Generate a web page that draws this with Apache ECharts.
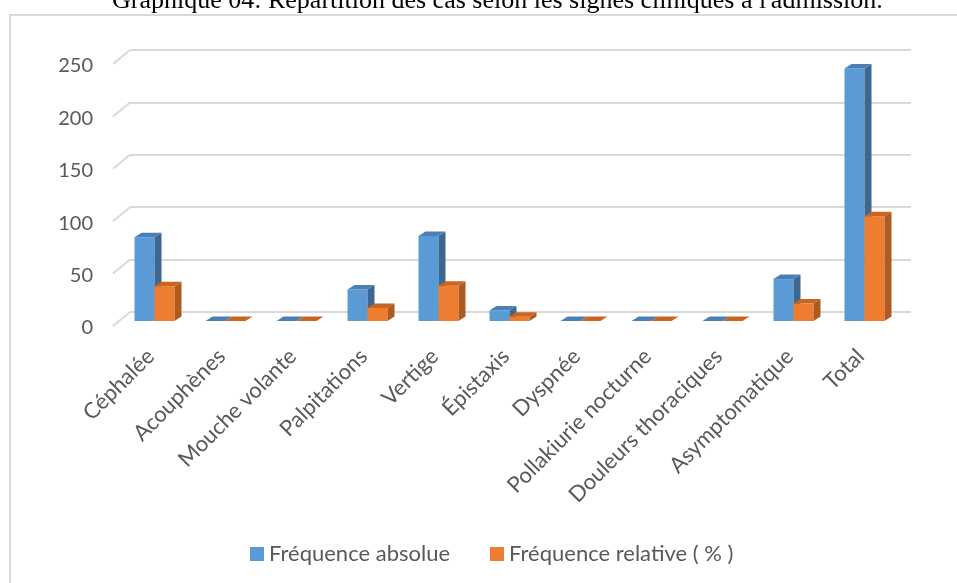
<!DOCTYPE html>
<html>
<head>
<meta charset="utf-8">
<script src="https://cdn.jsdelivr.net/npm/echarts@6/dist/echarts.min.js"></script>
<style>
  html, body { margin: 0; padding: 0; background: #fff; }
  #main { width: 957px; height: 583px; }
</style>
</head>
<body>
<div id="main"></div>
<script>
// données
var categories = ['Céphalée', 'Acouphènes', 'Mouche volante', 'Palpitations', 'Vertige',
  'Épistaxis', 'Dyspnée', 'Pollakiurie nocturne', 'Douleurs thoraciques', 'Asymptomatique', 'Total'];
var freqAbsolue = [80, 0, 0, 30, 81, 10, 0, 0, 0, 40, 241];
var freqRelative = [33.2, 0, 0, 12.4, 33.6, 4.1, 0, 0, 0, 16.6, 100];
var yTicks = [0, 50, 100, 150, 200, 250];

var chart = echarts.init(document.getElementById('main'));

// décalage mur du fond -> face avant des barres, et profondeur des barres
var OFF_X = -11, OFF_Y = 9;
var BAR_W = 20, DEP_X = 7, DEP_Y = -4.5;

function bar3d(shift, front, side, top) {
  return function (params, api) {
    var idx = api.value(0);
    var base = api.coord([idx, 0]);
    var pt = api.coord([idx, api.value(1)]);
    var x0 = base[0] + OFF_X + shift;
    var x1 = x0 + BAR_W;
    var yb = base[1] + OFF_Y;
    var yt = pt[1] + OFF_Y;
    var children = [];
    if (yb - yt > 0.5) {
      children.push({ type: 'rect', shape: { x: x0, y: yt, width: BAR_W, height: yb - yt }, style: { fill: front } });
      children.push({ type: 'polygon', shape: { points: [[x1, yt], [x1 + DEP_X, yt + DEP_Y], [x1 + DEP_X, yb + DEP_Y], [x1, yb]] }, style: { fill: side } });
    }
    children.push({ type: 'polygon', shape: { points: [[x0, yt], [x0 + DEP_X, yt + DEP_Y], [x1 + DEP_X, yt + DEP_Y], [x1, yt]] }, style: { fill: top } });
    return { type: 'group', children: children };
  };
}

var option = {
  animation: false,
  backgroundColor: '#fff',
  title: {
    text: "Graphique 04: Répartition des cas selon les signes cliniques à l'admission.",
    left: 107,
    top: -17,
    textStyle: { fontFamily: 'Liberation Serif', fontSize: 26, fontWeight: 'normal', color: '#000' }
  },
  graphic: [{
    type: 'rect',
    shape: { x: 10, y: 15, width: 980, height: 620 },
    style: { fill: 'none', stroke: '#d9d9d9', lineWidth: 2 },
    z: -1
  }],
  legend: {
    left: 245,
    top: 538,
    itemWidth: 14,
    itemHeight: 14,
    itemGap: 40,
    icon: 'rect',
    textStyle: { fontFamily: 'Lato', fontSize: 22, color: '#595959' },
    data: ['Fréquence absolue', 'Fréquence relative ( % )']
  },
  grid: { left: 130, right: 46, top: 50, bottom: 271 },
  xAxis: {
    type: 'category',
    data: categories,
    axisLine: { show: false },
    axisTick: { show: false },
    axisLabel: {
      rotate: 45,
      interval: 0,
      margin: 26,
      padding: [0, 21, 0, 0],
      fontFamily: 'Lato',
      fontSize: 22,
      color: '#595959'
    }
  },
  yAxis: {
    type: 'value',
    min: 0,
    max: 250,
    interval: 50,
    axisLine: { show: false },
    axisTick: { show: false },
    axisLabel: {
      margin: 37,
      verticalAlign: 'top',
      padding: [6, 0, 0, 0],
      fontFamily: 'Lato',
      fontSize: 20,
      color: '#595959'
    },
    splitLine: { lineStyle: { color: '#d9d9d9', width: 2 } }
  },
  series: [
    {
      type: 'custom',
      name: 'grid-depth',
      silent: true,
      data: yTicks.map(function (t) { return [0, t]; }),
      renderItem: function (params, api) {
        var p = api.coord([0, api.value(1)]);
        var x = params.coordSys.x;
        return { type: 'line', shape: { x1: x, y1: p[1], x2: x - 17, y2: p[1] + 14 }, style: { stroke: '#d9d9d9', lineWidth: 2 } };
      },
      z: 1
    },
    {
      type: 'custom',
      name: 'Fréquence absolue',
      itemStyle: { color: '#5b9bd5' },
      data: freqAbsolue.map(function (v, i) { return [i, v]; }),
      renderItem: bar3d(-BAR_W, '#5b9bd5', '#3b6791', '#4a80b5'),
      z: 2
    },
    {
      type: 'custom',
      name: 'Fréquence relative ( % )',
      itemStyle: { color: '#ed7d31' },
      data: freqRelative.map(function (v, i) { return [i, v]; }),
      renderItem: bar3d(0, '#ed7d31', '#ae5a21', '#c8651f'),
      z: 3
    }
  ]
};

chart.setOption(option);
</script>
</body>
</html>
